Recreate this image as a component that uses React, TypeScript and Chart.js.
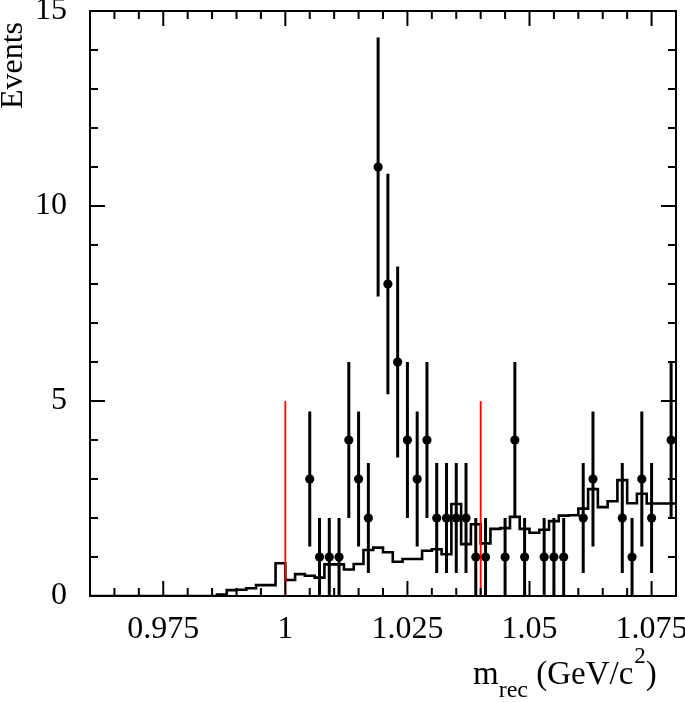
import React, { useEffect, useRef } from 'react';
import { Chart, registerables } from 'chart.js';

Chart.register(...registerables);

const FONT = "'Liberation Serif', 'Times New Roman', Times, serif";

// Axis ranges and ticks
const X_MIN = 0.96;
const X_MAX = 1.08;
const BIN_WIDTH = 0.002;
const Y_MIN = 0;
const Y_MAX = 15;
const xTickValues = [0.975, 1, 1.025, 1.05, 1.075];
const xTickLabels = ['0.975', '1', '1.025', '1.05', '1.075'];
const xMinorStep = 0.005;
const yTickValues = [0, 5, 10, 15];
const yTickLabels = ['0', '5', '10', '15'];
const yMinorStep = 1;

// Data points (bin centres, counts, errors)
const dataMass = [
  1.005, 1.007, 1.009, 1.011, 1.013, 1.015, 1.017, 1.019, 1.021, 1.023,
  1.025, 1.027, 1.029, 1.031, 1.033, 1.035, 1.037, 1.039, 1.041, 1.045,
  1.047, 1.049, 1.053, 1.055, 1.057, 1.061, 1.063, 1.069, 1.071, 1.073,
  1.075, 1.079,
];
const dataCounts = [
  3, 1, 1, 1, 4, 3, 2, 11, 8, 6,
  4, 3, 4, 2, 2, 2, 2, 1, 1, 1,
  4, 1, 1, 1, 1, 2, 3, 2, 1, 3,
  2, 4,
];
const dataErrors = [
  1.73, 1, 1, 1, 2, 1.73, 1.41, 3.32, 2.83, 2.45,
  2, 1.73, 2, 1.41, 1.41, 1.41, 1.41, 1, 1, 1,
  2, 1, 1, 1, 1, 1.41, 1.73, 1.41, 1, 1.73,
  1.41, 2,
];

// Background histogram (60 bins of 0.002 from 0.96)
const histValues = [
  0, 0, 0, 0, 0, 0, 0, 0, 0, 0,
  0, 0, 0, 0, 0.04, 0.15, 0.16, 0.2, 0.28, 0.28,
  0.84, 0.41, 0.56, 0.52, 0.47, 0.81, 0.81, 0.68, 0.82, 1.18,
  1.24, 1.12, 0.88, 0.95, 0.95, 1.16, 1.2, 1.07, 2.36, 1.33,
  1.84, 1.35, 1.72, 1.74, 2.03, 1.72, 1.62, 1.7, 1.92, 2.06,
  2.07, 2.24, 2.74, 2.28, 2.43, 2.97, 2.38, 2.62, 2.37, 2.37,
];

// Signal region cut lines
const cutPositions = [1.0, 1.04];
const cutHeight = 5;

const framePlugin = {
  id: 'frameTicks',
  afterDatasetDraw(chart: any, args: any) {
    if (args.index !== 1) return;
    const { ctx, scales } = chart;
    const x = scales.x;
    const y = scales.y;
    ctx.save();
    ctx.strokeStyle = '#000';
    ctx.lineWidth = 3;
    ctx.beginPath();
    dataMass.forEach((m, i) => {
      const px = x.getPixelForValue(m);
      const lo = Math.max(Y_MIN, dataCounts[i] - dataErrors[i]);
      const hi = dataCounts[i] + dataErrors[i];
      ctx.moveTo(px, y.getPixelForValue(lo));
      ctx.lineTo(px, y.getPixelForValue(hi));
    });
    ctx.stroke();
    ctx.restore();
  },
  afterDraw(chart: any) {
    const { ctx, chartArea, scales } = chart;
    const { left, right, top, bottom } = chartArea;
    const x = scales.x;
    const y = scales.y;
    ctx.save();
    ctx.strokeStyle = '#000';
    ctx.lineWidth = 2;
    ctx.beginPath();
    const nx = Math.round((X_MAX - X_MIN) / xMinorStep);
    for (let i = 1; i < nx; i++) {
      const v = X_MIN + i * xMinorStep;
      const major = xTickValues.some((t) => Math.abs(t - v) < 1e-9);
      const len = major ? 15 : 8;
      const px = x.getPixelForValue(v);
      ctx.moveTo(px, bottom);
      ctx.lineTo(px, bottom - len);
      ctx.moveTo(px, top);
      ctx.lineTo(px, top + len);
    }
    const ny = Math.round((Y_MAX - Y_MIN) / yMinorStep);
    for (let i = 1; i < ny; i++) {
      const v = Y_MIN + i * yMinorStep;
      const major = yTickValues.some((t) => Math.abs(t - v) < 1e-9);
      const len = major ? 15 : 8;
      const py = y.getPixelForValue(v);
      ctx.moveTo(left, py);
      ctx.lineTo(left + len, py);
      ctx.moveTo(right, py);
      ctx.lineTo(right - len, py);
    }
    ctx.stroke();
    ctx.strokeRect(left, top, right - left, bottom - top);

    // Axis titles
    ctx.fillStyle = '#000';
    ctx.textBaseline = 'alphabetic';
    ctx.font = `32px ${FONT}`;
    ctx.save();
    ctx.translate(22, 22);
    ctx.rotate(-Math.PI / 2);
    ctx.textAlign = 'right';
    ctx.fillText('Events', 0, 0);
    ctx.restore();

    ctx.textAlign = 'left';
    let cx = 473;
    const base = 684;
    ctx.font = `33px ${FONT}`;
    ctx.fillText('m', cx, base);
    cx += ctx.measureText('m').width;
    ctx.font = `24px ${FONT}`;
    ctx.fillText('rec', cx, base + 13);
    cx += ctx.measureText('rec').width;
    ctx.font = `33px ${FONT}`;
    ctx.fillText(' (GeV/c', cx, base);
    cx += ctx.measureText(' (GeV/c').width;
    ctx.font = `23px ${FONT}`;
    ctx.fillText('2', cx + 1, base - 21);
    cx += ctx.measureText('2').width + 1;
    ctx.font = `33px ${FONT}`;
    ctx.fillText(')', cx, base);
    ctx.restore();
  },
};

export default function App() {
  const canvasRef = useRef<HTMLCanvasElement | null>(null);

  useEffect(() => {
    document.body.style.margin = '0';
    const canvas = canvasRef.current;
    if (!canvas) return;

    const histPoints = histValues.map((v, k) => ({ x: X_MIN + k * BIN_WIDTH, y: v }));
    histPoints.push({ x: X_MAX, y: histValues[histValues.length - 1] });

    const cutDatasets = cutPositions.map((c) => ({
      type: 'line' as const,
      data: [
        { x: c, y: 0 },
        { x: c, y: cutHeight },
      ],
      borderColor: '#ff0000',
      borderWidth: 1.8,
      pointRadius: 0,
      showLine: true,
      fill: false,
      order: 0,
    }));

    const chart = new Chart(canvas, {
      type: 'scatter',
      data: {
        datasets: [
          {
            type: 'line',
            data: histPoints,
            stepped: 'after',
            borderColor: '#000',
            borderWidth: 2.6,
            pointRadius: 0,
            fill: false,
            order: 2,
          } as any,
          {
            type: 'scatter',
            data: dataMass.map((m, i) => ({ x: m, y: dataCounts[i] })),
            pointRadius: 4.6,
            pointBackgroundColor: '#000',
            pointBorderColor: '#000',
            pointBorderWidth: 0,
            showLine: false,
            order: 1,
          } as any,
          ...cutDatasets,
        ],
      },
      options: {
        responsive: false,
        animation: false,
        events: [],
        layout: { padding: { top: 11, right: 9, left: 0, bottom: 0 } },
        plugins: {
          legend: { display: false },
          tooltip: { enabled: false },
        },
        scales: {
          x: {
            type: 'linear',
            min: X_MIN,
            max: X_MAX,
            grid: { display: false, drawTicks: false },
            border: { display: false },
            afterBuildTicks: (scale: any) => {
              scale.ticks = xTickValues.map((v) => ({ value: v }));
            },
            afterFit: (scale: any) => {
              scale.height = 107;
              scale.paddingLeft = 0;
              scale.paddingRight = 0;
            },
            ticks: {
              padding: 14,
              color: '#000',
              maxRotation: 0,
              autoSkip: false,
              font: { family: FONT, size: 32 },
              callback: (value: any) => {
                const idx = xTickValues.findIndex((t) => Math.abs(t - Number(value)) < 1e-9);
                return idx >= 0 ? xTickLabels[idx] : '';
              },
            },
          },
          y: {
            type: 'linear',
            min: Y_MIN,
            max: Y_MAX,
            grid: { display: false, drawTicks: false },
            border: { display: false },
            afterBuildTicks: (scale: any) => {
              scale.ticks = yTickValues.map((v) => ({ value: v }));
            },
            afterFit: (scale: any) => {
              scale.width = 90;
              scale.paddingTop = 0;
              scale.paddingBottom = 0;
            },
            ticks: {
              padding: 23,
              color: '#000',
              autoSkip: false,
              font: { family: FONT, size: 32 },
              callback: (value: any) => {
                const idx = yTickValues.findIndex((t) => Math.abs(t - Number(value)) < 1e-9);
                return idx >= 0 ? yTickLabels[idx] : '';
              },
            },
          },
        },
      } as any,
      plugins: [framePlugin],
    });

    return () => {
      chart.destroy();
    };
  }, []);

  return (
    <div style={{ width: 685, height: 703 }}>
      <canvas ref={canvasRef} width={685} height={703} style={{ display: 'block' }} />
    </div>
  );
}
